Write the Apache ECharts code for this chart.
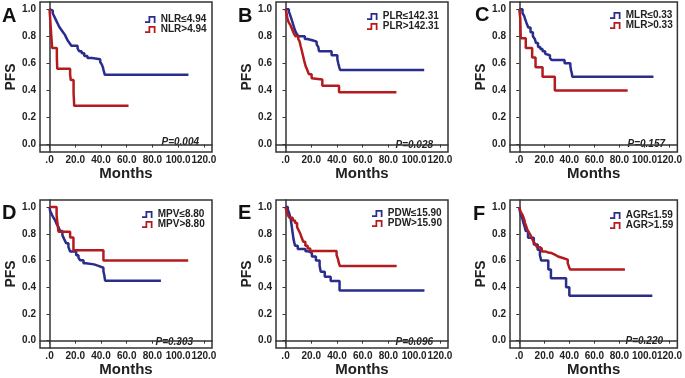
<!DOCTYPE html>
<html>
<head>
<meta charset="utf-8">
<script src="https://cdn.jsdelivr.net/npm/echarts@6/dist/echarts.min.js"></script>
<style>
  html, body { margin: 0; padding: 0; background: #fff; }
  #chart { width: 685px; height: 378px; }
</style>
</head>
<body>
<div id="chart"></div>
<script>
const monthTicks = [0, 20, 40, 60, 80, 100, 120];
const pfsTicks = [0, 0.2, 0.4, 0.6, 0.8, 1.0];

const panelLetters = ['A', 'B', 'C', 'D', 'E', 'F'];
const pValues = ['P=0.004', 'P=0.028', 'P=0.157', 'P=0.303', 'P=0.096', 'P=0.220'];
const lowNames = ['NLR≤4.94', 'PLR≤142.31', 'MLR≤0.33', 'MPV≤8.80', 'PDW≤15.90', 'AGR≤1.59'];
const highNames = ['NLR>4.94', 'PLR>142.31', 'MLR>0.33', 'MPV>8.80', 'PDW>15.90', 'AGR>1.59'];

// [months, PFS] — survival after each step
const nlrLow = [[0, 1], [1.5, 0.99], [2.5, 0.97], [3.5, 0.95], [4.5, 0.93], [5.5, 0.91], [6.5, 0.89], [7.5, 0.87], [9, 0.85], [10.5, 0.83], [12, 0.81], [13, 0.79], [14, 0.77], [15.5, 0.75], [17, 0.73], [21.8, 0.71], [23, 0.69], [25, 0.675], [27, 0.655], [29.5, 0.64], [33, 0.63], [39.4, 0.61], [40.7, 0.59], [41.5, 0.57], [42, 0.55], [43, 0.515], [108, 0.515]];
const nlrHigh = [[0, 1], [0.5, 0.93], [1, 0.857], [1.5, 0.786], [2, 0.714], [5.7, 0.643], [6, 0.56], [16, 0.52], [16.5, 0.476], [18.7, 0.38], [19.2, 0.286], [61.4, 0.286]];

const plrLow = [[0, 1], [2.6, 0.98], [3.5, 0.96], [4.5, 0.93], [5.5, 0.9], [6.5, 0.87], [7.5, 0.84], [8.5, 0.82], [10, 0.8], [15, 0.78], [17, 0.77], [20.8, 0.76], [24.2, 0.74], [25.5, 0.72], [26, 0.69], [35.8, 0.66], [40.3, 0.63], [41, 0.6], [41.8, 0.57], [42.5, 0.55], [107.8, 0.55]];
const plrHigh = [[0, 1], [0.8, 0.97], [1.3, 0.94], [1.8, 0.92], [2.6, 0.9], [3.9, 0.88], [5.2, 0.85], [6.5, 0.82], [7.8, 0.8], [9.9, 0.78], [11, 0.76], [11.7, 0.73], [12.5, 0.7], [13.5, 0.66], [14.5, 0.62], [15.6, 0.58], [16.9, 0.55], [18.2, 0.52], [20.3, 0.49], [21, 0.48], [28.6, 0.435], [41.6, 0.386], [86.2, 0.386]];

const mlrLow = [[0, 1], [2.6, 0.97], [3.9, 0.95], [4.6, 0.93], [5.7, 0.9], [7.2, 0.865], [9, 0.83], [10.9, 0.8], [12.4, 0.78], [13.4, 0.75], [15, 0.72], [16.8, 0.705], [18.6, 0.69], [20.7, 0.67], [22.2, 0.66], [24.5, 0.64], [25.8, 0.624], [36.2, 0.6], [40.8, 0.58], [41.3, 0.55], [41.9, 0.53], [42.4, 0.5], [107.2, 0.5]];
const mlrHigh = [[0, 1], [0.8, 0.93], [1, 0.857], [1.2, 0.786], [5.2, 0.714], [10.3, 0.643], [13, 0.571], [18.6, 0.5], [28.4, 0.4], [86.6, 0.4]];

const mpvLow = [[0, 1], [0.5, 0.97], [2, 0.94], [3.1, 0.92], [4.4, 0.9], [5.7, 0.87], [7, 0.85], [8.3, 0.82], [10, 0.79], [11.4, 0.76], [12.9, 0.73], [14.7, 0.7], [16, 0.668], [20.7, 0.64], [22.5, 0.62], [23.8, 0.602], [26.4, 0.58], [28.4, 0.571], [34.6, 0.56], [38, 0.546], [41.9, 0.52], [42.6, 0.49], [43.2, 0.449], [86.6, 0.449]];
const mpvHigh = [[0, 1], [5.5, 0.94], [6.2, 0.875], [7, 0.815], [16, 0.773], [18.6, 0.676], [41.9, 0.6], [107.8, 0.6]];

const pdwLow = [[0, 1], [1.8, 0.98], [3, 0.95], [4, 0.91], [4.8, 0.86], [5.5, 0.81], [6.2, 0.76], [7.4, 0.71], [9.5, 0.686], [15.5, 0.67], [17.2, 0.657], [20.5, 0.63], [23.6, 0.6], [26.5, 0.56], [27.4, 0.515], [30.5, 0.478], [35.1, 0.446], [42, 0.375], [108, 0.375]];
const pdwHigh = [[0, 1], [0.8, 0.97], [1.8, 0.94], [3.1, 0.92], [5.6, 0.9], [7.4, 0.88], [9, 0.85], [10, 0.83], [11.5, 0.8], [12.6, 0.77], [13.8, 0.74], [15.4, 0.71], [17.2, 0.69], [19.2, 0.672], [39.7, 0.64], [40.8, 0.61], [41.5, 0.58], [42.3, 0.559], [86.4, 0.559]];

const agrLow = [[0, 1], [0.5, 0.97], [1.3, 0.94], [2.6, 0.91], [3.4, 0.88], [4.4, 0.85], [5.2, 0.82], [7, 0.77], [11.6, 0.72], [14.7, 0.68], [16.5, 0.64], [17.5, 0.6], [23.2, 0.533], [25.3, 0.467], [37.4, 0.4], [40, 0.337], [106.3, 0.337]];
const agrHigh = [[0, 1], [0.5, 0.98], [1.3, 0.963], [2.6, 0.94], [3.9, 0.91], [4.6, 0.88], [5.4, 0.86], [6.5, 0.83], [7.7, 0.81], [9, 0.79], [10.3, 0.76], [11.6, 0.74], [12.9, 0.72], [14.2, 0.7], [16.3, 0.69], [18, 0.668], [20.6, 0.66], [23.2, 0.656], [25.8, 0.644], [28.4, 0.63], [31, 0.619], [34.8, 0.607], [38.7, 0.58], [39.5, 0.56], [40.5, 0.533], [84.4, 0.533]];

const lowCurves = [nlrLow, plrLow, mlrLow, mpvLow, pdwLow, agrLow];
const highCurves = [nlrHigh, plrHigh, mlrHigh, mpvHigh, pdwHigh, agrHigh];

// layout
const boxLeft = [40, 276, 510];
const boxTop = [2, 200];
const boxHeight = [150, 152];
const legendPos = [[145, 14.5], [367, 11.5], [610, 10.5], [142, 209.5], [372, 208.5], [610, 210.5]];
const letterPos = [[2, 16], [238, 16], [475, 15], [2, 213], [238, 213], [473, 214]];
const pPos = [[199, 142], [433, 145], [665, 144], [193, 342], [433, 342], [663, 341]];

const BLUE = '#2b2d8c';
const RED = '#b31b1f';
const AXIS = '#333';
const FONT = '"Liberation Sans", Arial, sans-serif';
const stepIcon = 'path://M0,6 L4,6 L4,0 L12,0 L12,8 L10,8 L10,2 L6,2 L6,8 L0,8 Z';

const grid = [];
const xAxis = [];
const yAxis = [];
const series = [];
const legend = [];
const graphic = [];

panelLetters.forEach((letter, i) => {
  const col = i % 3;
  const row = Math.floor(i / 3);
  grid.push({
    left: boxLeft[col],
    top: boxTop[row],
    width: 172,
    height: boxHeight[row],
    show: true,
    borderColor: AXIS,
    borderWidth: 1.5,
    backgroundColor: 'transparent'
  });
  xAxis.push({
    type: 'value',
    gridIndex: i,
    min: -7.4,
    max: 126.3,
    name: 'Months',
    nameLocation: 'middle',
    nameGap: 14,
    nameTextStyle: { fontFamily: FONT, fontWeight: 'bold', fontSize: 15, color: '#222' },
    axisLine: { show: true, lineStyle: { color: AXIS, width: 1.5 } },
    axisTick: { show: true, length: 3, customValues: monthTicks, lineStyle: { color: AXIS } },
    axisLabel: {
      customValues: monthTicks,
      margin: 3,
      fontFamily: FONT,
      fontWeight: 'bold',
      fontSize: 10,
      color: '#222',
      formatter: v => (v === 0 ? '.0' : v.toFixed(1))
    },
    splitLine: { show: false }
  });
  yAxis.push({
    type: 'value',
    gridIndex: i,
    min: -0.055,
    max: 1.053,
    name: 'PFS',
    nameLocation: 'middle',
    nameGap: 22,
    nameRotate: 90,
    nameTextStyle: { fontFamily: FONT, fontWeight: 'bold', fontSize: 14, color: '#222' },
    axisLine: { show: true, lineStyle: { color: AXIS, width: 1.5 } },
    axisTick: { show: true, length: 3, customValues: pfsTicks, lineStyle: { color: AXIS } },
    axisLabel: {
      customValues: pfsTicks,
      margin: 4,
      fontFamily: FONT,
      fontWeight: 'bold',
      fontSize: 10,
      color: '#222',
      formatter: v => v.toFixed(1)
    },
    splitLine: { show: false }
  });
  [[lowNames[i], lowCurves[i], BLUE], [highNames[i], highCurves[i], RED]].forEach(([name, data, color]) => {
    series.push({
      name,
      type: 'line',
      step: 'end',
      xAxisIndex: i,
      yAxisIndex: i,
      data,
      showSymbol: false,
      itemStyle: { color },
      lineStyle: { color, width: 2.5 }
    });
  });
  legend.push({
    data: [lowNames[i], highNames[i]],
    orient: 'vertical',
    left: legendPos[i][0],
    top: legendPos[i][1],
    padding: 0,
    itemGap: 0,
    itemWidth: 11,
    itemHeight: 7,
    icon: stepIcon,
    selectedMode: false,
    textStyle: { fontFamily: FONT, fontWeight: 'bold', fontSize: 10, lineHeight: 9, color: '#222' }
  });
  graphic.push({
    type: 'text',
    x: letterPos[i][0],
    y: letterPos[i][1],
    style: {
      text: letter,
      align: 'left',
      verticalAlign: 'middle',
      font: 'bold 20px ' + FONT,
      fill: '#111'
    }
  });
  graphic.push({
    type: 'text',
    x: pPos[i][0],
    y: pPos[i][1],
    style: {
      text: pValues[i],
      align: 'right',
      verticalAlign: 'middle',
      font: 'italic bold 10px ' + FONT,
      fill: '#222'
    }
  });
});

const myChart = echarts.init(document.querySelector('#chart'));
myChart.setOption({
  animation: false,
  backgroundColor: '#fff',
  grid,
  xAxis,
  yAxis,
  legend,
  series,
  graphic
});
</script>
</body>
</html>
